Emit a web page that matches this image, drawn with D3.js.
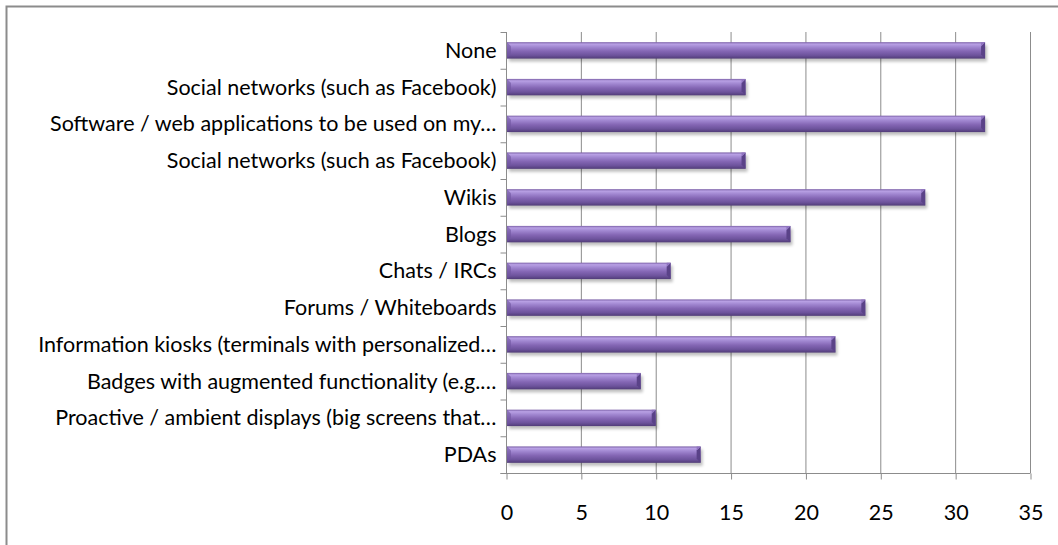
<!DOCTYPE html>
<html><head><meta charset="utf-8">
<script src="https://cdn.jsdelivr.net/npm/d3@7"></script>
<style>body{margin:0;background:#fff;}svg{display:block;}</style>
</head><body><svg id="c" width="1058" height="545"></svg>
<script>
const categories = ["None","Social networks (such as Facebook)","Software / web applications to be used on my…","Social networks (such as Facebook)","Wikis","Blogs","Chats / IRCs","Forums / Whiteboards","Information kiosks (terminals with personalized…","Badges with augmented functionality (e.g.…","Proactive / ambient displays (big screens that…","PDAs"];
const values = [32,16,32,16,28,19,11,24,22,9,10,13];
const xTicks = [0,5,10,15,20,25,30,35];

const FONT="Lato, sans-serif", FS=21.5;
const svg = d3.select("#c");
const m={left:506,right:1030,top:32,bottom:473};
svg.append("rect").attr("x",6.5).attr("y",6.5).attr("width",1080).attr("height",600).attr("fill","#fff").attr("stroke","#8c8c8c").attr("stroke-width",2);

const x=d3.scaleLinear().domain([0,35]).range([m.left,m.right]);
const ids=categories.map((d,i)=>i);
const y=d3.scaleBand().domain(ids).range([m.top,m.bottom]).paddingInner(0.58).paddingOuter(0.29);
const yb=d3.scaleBand().domain(ids).range([m.top,m.bottom]);

const defs=svg.append("defs");
const g=defs.append("linearGradient").attr("id","bar").attr("x1",0).attr("y1",0).attr("x2",0).attr("y2",1);
[[0,"#7c61a8"],[0.12,"#b8a0e4"],[0.3,"#a086d0"],[0.55,"#8466b4"],[0.8,"#6d539c"],[1,"#513c78"]].forEach(s=>g.append("stop").attr("offset",s[0]).attr("stop-color",s[1]));
const f=defs.append("filter").attr("id","sh").attr("x","-5%").attr("y","-50%").attr("width","110%").attr("height","250%");
f.append("feGaussianBlur").attr("stdDeviation",1.6);

svg.append("g").selectAll("line").data(xTicks.slice(1)).join("line")
 .attr("x1",d=>x(d)+0.5).attr("x2",d=>x(d)+0.5).attr("y1",m.top).attr("y2",m.bottom)
 .attr("stroke","#8c8c8c").attr("stroke-width",1);

const xa=svg.append("g").attr("transform",`translate(0.5,${m.bottom+0.5})`)
 .call(d3.axisBottom(x).tickValues(xTicks).tickSize(6).tickSizeOuter(0).tickPadding(25));
xa.select(".domain").attr("stroke","#8c8c8c").attr("d",`M${m.left-6},0H${m.right}`);
xa.selectAll(".tick line").attr("stroke","#8c8c8c");
xa.selectAll("text").attr("font-family",FONT).attr("font-size",FS).attr("fill","#000");

const ya=svg.append("g").attr("transform",`translate(${m.left+0.5},0)`);
ya.append("line").attr("x1",0).attr("x2",0).attr("y1",m.top).attr("y2",m.bottom).attr("stroke","#8c8c8c");
ya.selectAll("line.t").data(d3.range(13)).join("line").attr("class","t")
 .attr("x1",-6).attr("x2",0).attr("y1",i=>m.top+i*yb.step()+0.5).attr("y2",i=>m.top+i*yb.step()+0.5).attr("stroke","#8c8c8c");
ya.selectAll("text").data(ids).join("text")
 .attr("x",-10).attr("y",i=>yb(i)+yb.bandwidth()/2).attr("dy","0.35em").attr("text-anchor","end")
 .attr("font-family",FONT).attr("font-size",FS).attr("fill","#000").text(i=>categories[i]);

const bars=svg.append("g");
ids.forEach(i=>{
  const y0=y(i)-0.5, h=y.bandwidth()+1, x0=x(0)+1, x1=x(values[i]);
  bars.append("rect").attr("x",x0+2).attr("y",y0+3).attr("width",x1-x0).attr("height",h).attr("fill","#000").attr("opacity",0.25).attr("filter","url(#sh)");
  bars.append("rect").attr("x",x0).attr("y",y0).attr("width",x1-x0).attr("height",h).attr("fill","url(#bar)");
  const c=4;
  bars.append("path").attr("d",`M${x1-c},${y0+c}L${x1},${y0}L${x1},${y0+h}L${x1-c},${y0+h-c}Z`).attr("fill","#5a4288");
  bars.append("path").attr("d",`M${x1-c},${y0+c}L${x1},${y0}L${x1-c},${y0}Z`).attr("fill","#8f73c0");
  bars.append("path").attr("d",`M${x0},${y0}L${x0+c},${y0+c}L${x0+c},${y0+h-c}L${x0},${y0+h}Z`).attr("fill","#6f55a0").attr("opacity",0.6);
});
</script></body></html>
